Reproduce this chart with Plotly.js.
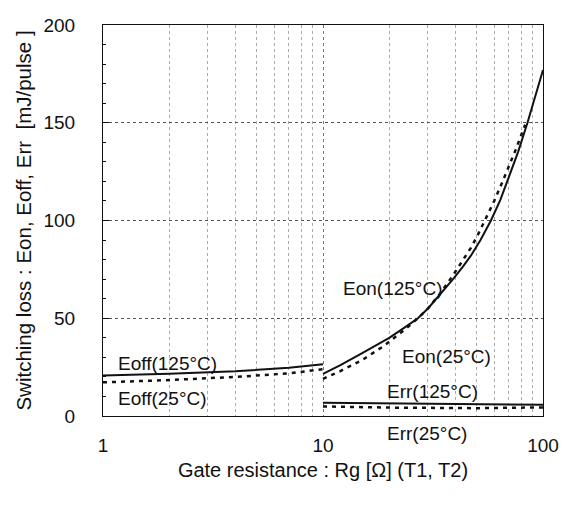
<!DOCTYPE html>
<html>
<head>
<meta charset="utf-8">
<script src="https://cdn.plot.ly/plotly-3.0.1.min.js"></script>
<style>html,body{margin:0;padding:0;background:#fff;}#chart{width:564px;height:506px;}</style>
</head>
<body>
<div id="chart"></div>
<script>
// Gate resistance Rg [ohm]
const rgOff = [1, 2, 4, 7, 10];
const eoff125 = [20.7, 21.6, 22.9, 24.7, 26.5];
const eoff25 = [17.2, 18.4, 20.0, 21.8, 24.0];

const rgOn125 = [10, 12, 15, 20, 24, 27, 30, 34, 39, 43, 47, 52, 58, 64, 70, 77, 85, 92, 100];
const eon125 = [21.5, 26, 32, 40, 46, 50, 55, 62, 70, 76, 82, 90, 100, 110.5, 122, 135, 150, 163, 177];

const rgOn25 = [10, 12, 15, 19, 24, 27, 30, 34, 39, 43, 47, 51, 55, 60, 65, 70, 75, 83];
const eon25 = [19, 23, 28.5, 36, 45, 50, 55, 62.5, 72, 79, 86, 93.5, 101, 110, 119, 127.5, 136, 149];

const rgRr = [10, 20, 50, 100];
const err125 = [6.8, 6.4, 6.0, 5.7];
const err25 = [4.9, 4.3, 4.0, 4.4];

const labelText = ["Eoff(125°C)", "Eoff(25°C)", "Eon(125°C)", "Eon(25°C)", "Err(125°C)", "Err(25°C)"];
const labelX = [1.14, 1.14, 12.1, 22.3, 19.2, 19.2];
const labelY = [27.1, 9.2, 65, 30.4, 12.4, -8.7];

const FONT = '"Liberation Sans", Arial, sans-serif';
const solid = {color: '#111', width: 2};
const dashed = {color: '#111', width: 2.5, dash: '4px,5px'};

const traces = [
  {x: rgOff, y: eoff125, line: solid},
  {x: rgOff, y: eoff25, line: dashed},
  {x: rgOn125, y: eon125, line: solid},
  {x: rgOn25, y: eon25, line: dashed},
  {x: rgRr, y: err125, line: solid},
  {x: rgRr, y: err25, line: dashed}
].map(t => Object.assign({type: 'scatter', mode: 'lines', hoverinfo: 'skip', showlegend: false}, t));

const annotations = labelText.map((t, i) => ({
  text: t, x: Math.log10(labelX[i]), y: labelY[i] / 200, xref: 'x', yref: 'paper',
  xanchor: 'left', yanchor: 'middle', showarrow: false,
  font: {family: FONT, size: 19, color: '#111'}
}));

const tickFont = {family: FONT, size: 19, color: '#111'};

const layout = {
  width: 564, height: 506,
  margin: {l: 103, r: 21, t: 25, b: 90},
  paper_bgcolor: '#fff', plot_bgcolor: '#fff',
  font: {family: FONT, size: 19, color: '#111'},
  showlegend: false,
  xaxis: {
    type: 'log', range: [0, 2], dtick: 1,
    tickvals: [1, 10, 100], ticktext: ['1', '10', '100'],
    tickfont: tickFont,
    showline: true, mirror: true, linecolor: '#111', linewidth: 1,
    showgrid: true, gridcolor: '#777', griddash: 'dot', gridwidth: 1,
    ticks: '', ticklabelstandoff: 12,
    minor: {dtick: 'D1', showgrid: true, gridcolor: '#aaa', griddash: 'dot', gridwidth: 1, ticks: ''},
    zeroline: false,
    title: {text: 'Gate resistance : Rg [Ω] (T1, T2)', font: {family: FONT, size: 20, color: '#111'}, standoff: 8}
  },
  yaxis: {
    range: [0, 200], dtick: 50,
    tickfont: tickFont,
    showline: true, mirror: true, linecolor: '#111', linewidth: 1,
    showgrid: true, gridcolor: '#555', griddash: 'dot', gridwidth: 1,
    ticks: 'inside', ticklen: 6, tickcolor: '#111',
    minor: {dtick: 10, ticks: 'inside', ticklen: 3, tickcolor: '#111', showgrid: false},
    ticklabelstandoff: 23,
    zeroline: false,
    title: {text: 'Switching loss : Eon, Eoff, Err  [mJ/pulse ]', font: {family: FONT, size: 20.5, color: '#111'}, standoff: 6}
  },
  annotations: annotations
};

Plotly.newPlot('chart', traces, layout, {displayModeBar: false, staticPlot: true});
</script>
</body>
</html>
